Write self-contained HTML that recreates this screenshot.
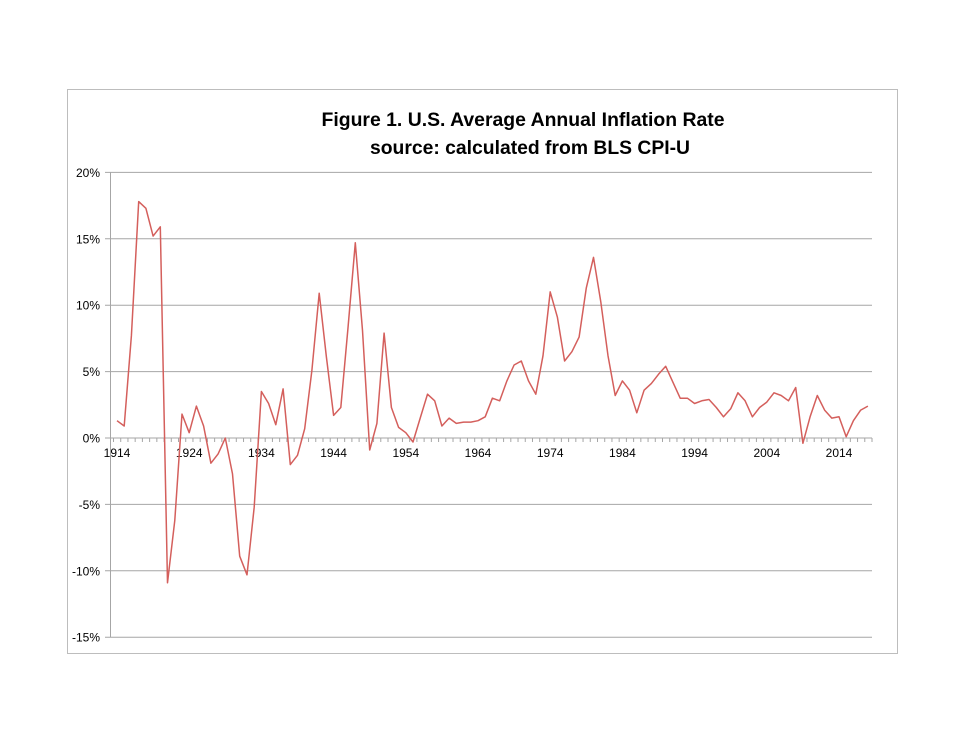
<!DOCTYPE html>
<html><head><meta charset="utf-8"><style>
body{margin:0;background:#fff;width:974px;height:752px;overflow:hidden}
svg{display:block;font-family:"Liberation Sans",sans-serif}
</style></head><body>
<svg id="s" width="974" height="752" viewBox="0 0 974 752">
<rect x="67.5" y="89.5" width="830" height="564" fill="#fff" stroke="#bdbdbd"/>
<text x="523" y="126" text-anchor="middle" font-size="19.5" font-weight="bold" textLength="403" lengthAdjust="spacingAndGlyphs">Figure 1. U.S. Average Annual Inflation Rate</text>
<text x="530" y="154" text-anchor="middle" font-size="19.5" font-weight="bold" textLength="320" lengthAdjust="spacingAndGlyphs">source: calculated from BLS CPI-U</text>
<g id="g"></g>
</svg>
<script>
var g=document.getElementById('g'),h='';
function y(v){return 438-v*13.28;}
var labs=['20%','15%','10%','5%','0%','-5%','-10%','-15%'];
for(var i=0;i<8;i++){var v=20-5*i,yy=y(v);
 h+='<line x1="105" x2="872" y1="'+yy+'" y2="'+yy+'" stroke="#a6a6a6" stroke-width="1"/>';
 h+='<text x="100" y="'+(yy+4.5)+'" text-anchor="end" font-size="12">'+labs[i]+'</text>';}
h+='<line x1="110.5" x2="110.5" y1="172" y2="637" stroke="#a6a6a6"/>';
var x0=113.5,dx=(872-113.5)/105;
for(var k=0;k<=105;k++){var xx=x0+k*dx;h+='<line x1="'+xx+'" x2="'+xx+'" y1="438" y2="442" stroke="#a6a6a6"/>';}
var d=[1.3,0.9,7.7,17.8,17.3,15.2,15.9,-10.9,-6.2,1.8,0.4,2.4,0.9,-1.9,-1.2,0.0,-2.7,-8.9,-10.3,-5.2,3.5,2.6,1.0,3.7,-2.0,-1.3,0.7,5.1,10.9,6.1,1.7,2.3,8.3,14.7,8.1,-0.9,1.1,7.9,2.3,0.8,0.4,-0.3,1.5,3.3,2.8,0.9,1.5,1.1,1.2,1.2,1.3,1.6,3.0,2.8,4.3,5.5,5.8,4.3,3.3,6.2,11.0,9.1,5.8,6.5,7.6,11.3,13.6,10.3,6.2,3.2,4.3,3.6,1.9,3.6,4.1,4.8,5.4,4.2,3.0,3.0,2.6,2.8,2.9,2.3,1.6,2.2,3.4,2.8,1.6,2.3,2.7,3.4,3.2,2.8,3.8,-0.4,1.6,3.2,2.1,1.5,1.6,0.1,1.3,2.1,2.4];
var p=[];for(var j=0;j<d.length;j++){var xx=117+j*7.22;p.push(xx.toFixed(1)+','+y(d[j]).toFixed(1));
 if((j)%10==0)h+='<text x="'+xx+'" y="457" text-anchor="middle" font-size="12">'+(1914+j)+'</text>';}
h+='<polyline points="'+p.join(' ')+'" fill="none" stroke="#d45f5c" stroke-width="1.5" stroke-linejoin="round"/>';
g.innerHTML=h;
</script>
</body></html>
